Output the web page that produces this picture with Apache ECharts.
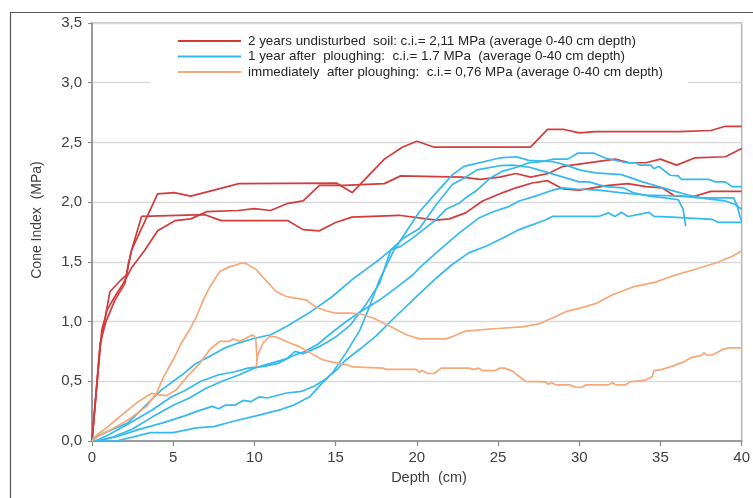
<!DOCTYPE html>
<html>
<head>
<meta charset="utf-8">
<script src="https://cdn.jsdelivr.net/npm/echarts@6/dist/echarts.min.js"></script>
<style>
html,body{margin:0;padding:0;background:#fff;}
#c{width:753px;height:498px;}
</style>
</head>
<body>
<div id="c"></div>
<script>
// ---- data (depth cm, cone index MPa) ----
var xTicks = [0, 5, 10, 15, 20, 25, 30, 35, 40];
var yTicks = [0, 0.5, 1.0, 1.5, 2.0, 2.5, 3.0, 3.5];
var groupNames = [
  "2 years undisturbed  soil: c.i.= 2,11 MPa (average 0-40 cm depth)",
  "1 year after  ploughing:  c.i.= 1.7 MPa  (average 0-40 cm depth)",
  "immediately  after ploughing:  c.i.= 0,76 MPa (average 0-40 cm depth)"
];

var red1 = [[0,0],[0.5,0.82],[0.86,1.0],[1.41,1.18],[2.03,1.32],[2.23,1.48],[2.44,1.6],[4.04,2.07],[5.06,2.08],[6.08,2.05],[9.05,2.155],[15.04,2.16],[16.02,2.08],[18,2.36],[19.1,2.46],[20,2.51],[21.08,2.46],[27,2.46],[28.05,2.61],[29,2.61],[30,2.58],[31,2.59],[36.1,2.59],[38.1,2.6],[39,2.635],[40,2.635]];
var red2 = [[0,0],[0.5,0.79],[1.1,1.25],[1.72,1.34],[2.13,1.39],[2.44,1.6],[3.05,1.88],[6.95,1.895],[7.97,1.845],[12.07,1.845],[13,1.77],[14,1.76],[15,1.83],[16,1.875],[18.9,1.89],[21.2,1.85],[22,1.86],[23,1.91],[24.05,2.01],[25.3,2.08],[26.1,2.12],[27.1,2.16],[28.05,2.18],[29,2.11],[30,2.1],[31.8,2.14],[33,2.155],[34.1,2.13],[35.1,2.12],[35.9,2.05],[37,2.045],[38.1,2.09],[40,2.09]];
var red3 = [[0,0],[0.6,0.93],[0.94,1.1],[1.41,1.21],[1.92,1.32],[2.44,1.45],[3.26,1.6],[4.04,1.76],[5.1,1.845],[6.08,1.86],[7.05,1.92],[9,1.93],[10,1.945],[11,1.93],[12.07,1.99],[13,2.01],[14,2.14],[15.5,2.14],[18,2.155],[19,2.22],[22.8,2.21],[23.9,2.19],[25.1,2.21],[26.1,2.24],[27,2.21],[28.1,2.24],[29,2.3],[32.2,2.36],[33.1,2.33],[34.1,2.33],[35,2.36],[36,2.31],[37.1,2.37],[39,2.38],[40,2.45]];

var blue1 = [[0,0.02],[0.8,0.07],[2.2,0.15],[3.7,0.35],[4.3,0.43],[5,0.5],[5.7,0.57],[6.3,0.64],[7.4,0.72],[8.2,0.78],[9,0.82],[10,0.86],[11,0.89],[12,0.96],[13.5,1.085],[14.8,1.21],[16,1.35],[17.1,1.46],[17.7,1.52],[18.4,1.6],[19,1.63],[19.65,1.69],[20.4,1.77],[21.2,1.855],[21.8,1.94],[22.6,1.99],[23,2.035],[23.7,2.1],[24.5,2.2],[25.3,2.26],[26.1,2.29],[26.9,2.33],[27.7,2.34],[28.4,2.36],[29.3,2.36],[29.9,2.41],[30.9,2.41],[31.6,2.37],[32.9,2.33],[33.5,2.33],[33.7,2.31],[34.4,2.31],[34.6,2.28],[34.9,2.3],[35.6,2.225],[36.1,2.22],[36.3,2.19],[38,2.19],[38.4,2.17],[39,2.17],[39.4,2.13],[40,2.13]];
var blue2 = [[0.2,0],[1,0.05],[2.2,0.14],[3.7,0.26],[4.9,0.37],[5.7,0.42],[6.7,0.5],[7.8,0.555],[8.8,0.58],[9.6,0.61],[10.6,0.625],[11.45,0.65],[12.3,0.71],[13.1,0.75],[13.9,0.81],[14.7,0.9],[15.55,0.99],[16.5,1.08],[17.7,1.18],[18.7,1.28],[19.75,1.39],[20.16,1.45],[21.4,1.6],[22.6,1.74],[23.85,1.87],[24.7,1.92],[25.7,1.965],[26.3,2.01],[27.3,2.05],[28.35,2.1],[29,2.12],[29.8,2.11],[31.2,2.1],[32.5,2.08],[34,2.06],[36.5,2.05],[37.3,2.035],[39.5,2.035],[39.7,1.98],[39.9,1.88],[40,1.84]];
var blue3 = [[0.3,0],[1.2,0.03],[2.5,0.1],[3.7,0.2],[5,0.3],[6,0.36],[7,0.44],[8,0.5],[9,0.55],[10,0.61],[11,0.65],[12,0.69],[12.5,0.75],[13,0.73],[14,0.79],[15,0.87],[15.9,0.97],[16.9,1.15],[17.7,1.32],[18.4,1.6],[19.2,1.7],[20.16,1.78],[21.2,1.98],[22.2,2.15],[22.9,2.2],[23.7,2.27],[25.1,2.305],[25.9,2.31],[27,2.29],[27.5,2.27],[28.5,2.23],[30,2.17],[30.6,2.17],[31.6,2.13],[32.7,2.12],[33.3,2.08],[34.3,2.05],[35.3,2.035],[36.1,2.02],[36.4,1.94],[36.55,1.8]];
var blue4 = [[0.4,0],[1.6,0.04],[2.85,0.095],[4.3,0.15],[5.7,0.21],[6.5,0.25],[7.4,0.29],[7.8,0.27],[8.2,0.3],[8.8,0.3],[9.3,0.34],[9.8,0.33],[10.3,0.37],[10.8,0.36],[11.9,0.4],[12.9,0.415],[13.7,0.46],[14.3,0.51],[15.1,0.6],[15.55,0.67],[16.5,0.77],[17.5,0.88],[18.6,1.03],[19.75,1.18],[21.2,1.365],[22.2,1.48],[23.2,1.575],[24.25,1.63],[25.3,1.7],[26.3,1.77],[27.1,1.81],[27.9,1.85],[28.35,1.88],[29.4,1.88],[31.2,1.88],[31.8,1.91],[32.2,1.88],[32.6,1.915],[33,1.88],[34.3,1.915],[34.6,1.88],[35.7,1.875],[38.2,1.855],[38.6,1.83],[40,1.83]];
var blue5 = [[0,0],[1.5,0],[3.6,0.07],[5,0.07],[6.4,0.11],[7.5,0.12],[8.7,0.165],[10.1,0.21],[11.55,0.26],[12.4,0.3],[13.4,0.37],[14,0.46],[14.8,0.57],[15.65,0.74],[16.5,0.93],[17.1,1.13],[17.7,1.35],[18.6,1.6],[20.16,1.92],[21.2,2.08],[22.2,2.23],[22.9,2.3],[25.1,2.37],[26.1,2.38],[26.9,2.35],[28.35,2.34],[29.2,2.31],[30,2.27],[31,2.245],[32.6,2.23],[33.9,2.17],[34.9,2.13],[35.9,2.09],[36.7,2.06],[37.8,2.03],[39,2.01],[39.6,1.98],[40,1.94]];

var orange1 = [[0,0],[0.5,0.05],[1.1,0.09],[2.1,0.165],[3.36,0.29],[3.97,0.4],[4.38,0.53],[5,0.68],[5.5,0.82],[6,0.93],[6.43,1.04],[6.85,1.18],[7.25,1.29],[7.87,1.42],[8.48,1.46],[8.79,1.47],[9.2,1.49],[9.5,1.485],[10.1,1.435],[10.74,1.34],[11.35,1.25],[11.97,1.21],[12.37,1.2],[13.2,1.18],[13.8,1.12],[14.4,1.09],[15.04,1.07],[15.86,1.07],[16.5,1.065],[17.3,1.03],[17.9,0.99],[18.5,0.95],[19.35,0.89],[20.16,0.855],[21.8,0.855],[22.2,0.875],[23,0.92],[24.7,0.94],[26.5,0.955],[27.5,0.98],[28.35,1.03],[29.2,1.085],[30,1.11],[31,1.15],[32.05,1.225],[33.3,1.29],[34.7,1.33],[35.7,1.38],[37.2,1.44],[38.4,1.49],[39.4,1.545],[40,1.59]];
var orange2 = [[0,0],[0.3,0.05],[0.8,0.1],[1.5,0.18],[2.75,0.32],[3.67,0.4],[3.97,0.39],[4.58,0.38],[5.2,0.43],[5.8,0.53],[6.64,0.65],[7.25,0.765],[7.87,0.835],[8.48,0.835],[8.68,0.855],[9.1,0.835],[9.9,0.89],[10.08,0.86],[10.16,0.7],[10.12,0.62],[10.2,0.72],[10.53,0.82],[10.94,0.875],[11.35,0.87],[12.17,0.82],[12.78,0.79],[13.4,0.74],[14.2,0.68],[14.83,0.66],[15.65,0.64],[16.06,0.62],[17.9,0.61],[18.1,0.6],[19.96,0.6],[20.16,0.575],[20.3,0.59],[20.7,0.565],[21.08,0.565],[21.5,0.61],[23.2,0.61],[23.5,0.6],[23.8,0.61],[24.05,0.59],[24.8,0.59],[25.1,0.61],[25.4,0.61],[25.9,0.585],[26.3,0.54],[26.7,0.5],[27.9,0.495],[28.1,0.475],[28.3,0.49],[28.55,0.47],[29.4,0.47],[29.8,0.45],[30.2,0.45],[30.4,0.47],[31.8,0.47],[32.05,0.49],[32.25,0.47],[32.85,0.47],[33.1,0.495],[34.1,0.51],[34.5,0.54],[34.6,0.59],[35.1,0.6],[35.7,0.625],[36.5,0.667],[36.9,0.7],[37.5,0.715],[37.7,0.74],[37.8,0.72],[38.2,0.72],[38.8,0.765],[39.2,0.78],[40,0.78]];

var redCurves = [red1, red2, red3];
var blueCurves = [blue1, blue2, blue3, blue4, blue5];
var orangeCurves = [orange1, orange2];

// ---- styling ----
var RED = '#d43c3c', BLUE = '#35b9ee', ORANGE = '#f6a878';
var FONT = 'Liberation Sans, Arial, sans-serif';
var TXT = '#404040';

function mk(name, color, data) {
  return {
    name: name, type: 'line', data: data, symbol: 'none', smooth: false,
    lineStyle: {color: color, width: 1.7}, itemStyle: {color: color},
    emphasis: {disabled: true}, animation: false, z: 3
  };
}
var series = [];
redCurves.forEach(function (d) { series.push(mk(groupNames[0], RED, d)); });
blueCurves.forEach(function (d) { series.push(mk(groupNames[1], BLUE, d)); });
orangeCurves.forEach(function (d) { series.push(mk(groupNames[2], ORANGE, d)); });

var chart = echarts.init(document.getElementById('c'), null, {renderer: 'canvas'});
chart.setOption({
  backgroundColor: '#fff',
  animation: false,
  textStyle: {fontFamily: FONT},
  grid: {left: 92, right: 10, top: 23, bottom: 57, show: true, borderColor: '#b4b4b4', borderWidth: 1.5, backgroundColor: 'transparent'},
  legend: {
    data: groupNames.map(function (n) { return {name: n, icon: 'rect'}; }),
    orient: 'vertical', left: 150, top: 25,
    padding: [9, 25, 11, 28], itemGap: 1.5, itemWidth: 63, itemHeight: 2,
    backgroundColor: '#fff', selectedMode: false,
    textStyle: {fontSize: 13.4, color: '#262626', fontFamily: FONT, padding: [0, 0, 0, 2], lineHeight: 14}
  },
  xAxis: {
    type: 'value', min: xTicks[0], max: xTicks[xTicks.length - 1], interval: 5,
    axisLine: {show: true, onZero: false, lineStyle: {color: '#8a8a8a', width: 1.5}},
    axisTick: {show: true, inside: false, length: 5, lineStyle: {color: '#8a8a8a', width: 1.2}},
    axisLabel: {fontSize: 15, color: TXT, margin: 9, fontFamily: FONT},
    splitLine: {show: false}
  },
  yAxis: {
    type: 'value', min: yTicks[0], max: yTicks[yTicks.length - 1], interval: 0.5,
    axisLine: {show: true, onZero: false, lineStyle: {color: '#8a8a8a', width: 1.5}},
    axisTick: {show: true, inside: false, length: 4, lineStyle: {color: '#8a8a8a', width: 1.2}},
    axisLabel: {fontSize: 15, color: TXT, margin: 10, fontFamily: FONT,
      formatter: function (v) { return v.toFixed(1).replace('.', ','); }},
    splitLine: {show: true, lineStyle: {color: '#dadada', width: 1.3}}
  },
  graphic: [
    {type: 'line', shape: {x1: 10, y1: 12.5, x2: 753, y2: 12.5}, style: {stroke: '#555', lineWidth: 1.2}, silent: true},
    {type: 'line', shape: {x1: 10.5, y1: 12, x2: 10.5, y2: 498}, style: {stroke: '#555', lineWidth: 1.2}, silent: true},
    {type: 'text', x: 37, y: 220, rotation: Math.PI / 2,
      style: {text: 'Cone Index  (MPa)', fill: TXT, font: '14px ' + FONT, textAlign: 'center', textVerticalAlign: 'middle'}, silent: true},
    {type: 'text', x: 429, y: 478,
      style: {text: 'Depth  (cm)', fill: TXT, font: '14.5px ' + FONT, textAlign: 'center', textVerticalAlign: 'middle'}, silent: true}
  ],
  series: series
});
</script>
</body>
</html>
